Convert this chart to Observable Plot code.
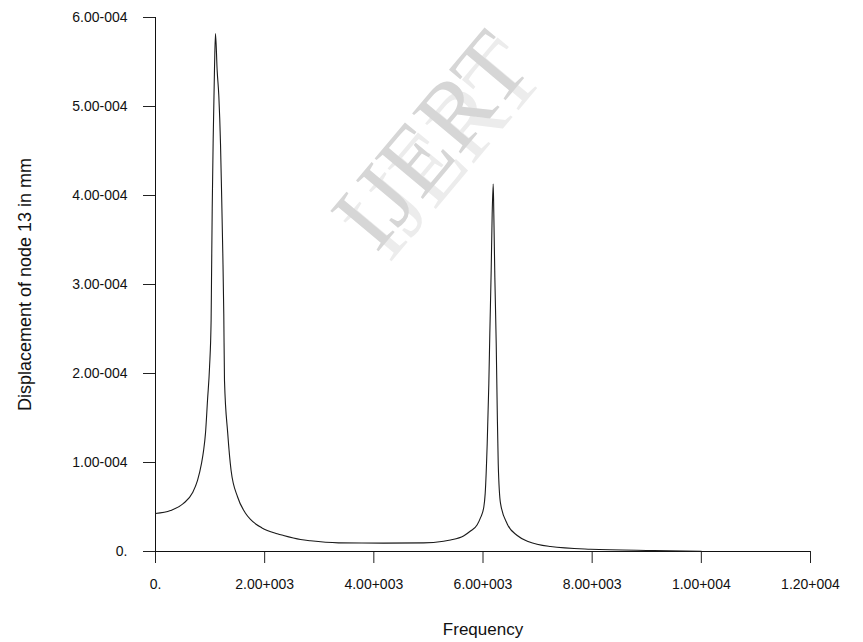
<!DOCTYPE html>
<html>
<head>
<meta charset="utf-8">
<script src="https://cdn.jsdelivr.net/npm/d3@7"></script>
<script src="https://cdn.jsdelivr.net/npm/@observablehq/plot@0.6"></script>
<style>
  html, body { margin: 0; padding: 0; background: #ffffff; }
  #chart svg { display: block; }
</style>
</head>
<body>
<div id="chart"></div>
<script>
// Frequency (Hz)
const frequency = [
  0, 275, 513, 678, 770, 843, 880, 916, 953, 990, 1019, 1026, 1039, 1057, 1081, 1099,
  1130, 1160, 1191, 1209, 1233, 1251, 1264, 1323, 1385, 1506, 1649, 1740, 1950, 2229,
  2345, 2657, 2840, 3353, 4177, 4910, 5277, 5405, 5643, 5771, 5894, 5955, 6015, 6040,
  6077, 6107, 6125, 6150, 6168, 6187, 6198, 6217, 6242, 6261, 6279, 6321, 6444, 6627,
  6839, 7237, 7970, 9124, 10000
];
// Displacement of node 13 (mm)
const displacement = [
  4.27e-5, 4.6e-5, 5.4e-5, 6.6e-5, 8.0e-5, 9.9e-5, 1.13e-4, 1.33e-4, 1.70e-4, 2.07e-4, 2.60e-4, 3.04e-4, 3.85e-4, 4.64e-4, 5.43e-4, 5.82e-4,
  5.40e-4, 5.12e-4, 4.58e-4, 4.08e-4, 3.35e-4, 2.67e-4, 1.92e-4, 1.33e-4, 9.1e-5, 6.1e-5, 4.3e-5, 3.6e-5, 2.65e-5, 2.0e-5,
  1.8e-5, 1.35e-5, 1.2e-5, 9.7e-6, 9.4e-6, 9.7e-6, 1.16e-5, 1.3e-5, 1.75e-5, 2.3e-5, 3.0e-5, 3.8e-5, 5.0e-5, 6.5e-5,
  1.21e-4, 1.89e-4, 2.45e-4, 3.16e-4, 3.79e-4, 4.13e-4, 3.8e-4, 3.08e-4, 2.34e-4, 1.58e-4, 9.9e-5, 5.4e-5, 3.1e-5, 1.8e-5,
  1.1e-5, 5.6e-6, 2.6e-6, 1.1e-6, 3e-7
];

const xTicks = [0, 2000, 4000, 6000, 8000, 10000, 12000];
const xTickLabels = ["0.", "2.00+003", "4.00+003", "6.00+003", "8.00+003", "1.00+004", "1.20+004"];
const yTicks = [0, 1e-4, 2e-4, 3e-4, 4e-4, 5e-4, 6e-4];
const yTickLabels = ["0.", "1.00-004", "2.00-004", "3.00-004", "4.00-004", "5.00-004", "6.00-004"];

const xLabel = "Frequency";
const yLabel = "Displacement of node 13 in mm";
const watermark = "IJERT";

const data = frequency.map((f, i) => ({f, d: displacement[i]}));
const fmtX = (v) => xTickLabels[xTicks.indexOf(v)];
const fmtY = (v) => yTickLabels[yTicks.findIndex(t => Math.abs(t - v) < 1e-9)];
const serif = "'Liberation Serif', 'Times New Roman', serif";

const chart = Plot.plot({
  width: 863,
  height: 642,
  marginLeft: 155,
  marginRight: 53,
  marginTop: 17,
  marginBottom: 91,
  style: {fontFamily: "'Liberation Sans', Arial, sans-serif", fontSize: "14px", color: "#111", background: "#ffffff"},
  x: {domain: [0, 12000], ticks: xTicks, tickFormat: fmtX, label: null},
  y: {domain: [0, 6e-4], ticks: yTicks, tickFormat: fmtY, label: null},
  marks: [
    Plot.text([watermark], {frameAnchor: "top-left", dx: 289, dy: 133, rotate: -50, textAnchor: "middle", lineAnchor: "middle", text: d => d, fontFamily: serif, fontSize: 96, fill: "#ececec"}),
    Plot.text([watermark], {frameAnchor: "top-left", dx: 276, dy: 123, rotate: -50, textAnchor: "middle", lineAnchor: "middle", text: d => d, fontFamily: serif, fontSize: 96, fill: "#d6d6d6"}),
    Plot.axisX({ticks: xTicks, tickSize: 12, tickPadding: 16, tickFormat: fmtX, fontSize: 14, stroke: "#222", label: null}),
    Plot.axisY({ticks: yTicks, tickSize: 12, tickPadding: 16, tickFormat: fmtY, fontSize: 14, stroke: "#222", label: null}),
    Plot.ruleY([0], {stroke: "#111"}),
    Plot.ruleX([0], {stroke: "#111"}),
    Plot.line(data, {x: "f", y: "d", stroke: "#1a1a1a", strokeWidth: 1.1, curve: "monotone-x"}),
    Plot.text([xLabel], {frameAnchor: "bottom", dy: 78, text: d => d, fontSize: 17, fill: "#111", textAnchor: "middle", lineAnchor: "middle"}),
    Plot.text([yLabel], {frameAnchor: "left", dx: -130, rotate: -90, text: d => d, fontSize: 18, fill: "#111", textAnchor: "middle", lineAnchor: "middle"})
  ]
});
document.getElementById("chart").appendChild(chart);
</script>
</body>
</html>
